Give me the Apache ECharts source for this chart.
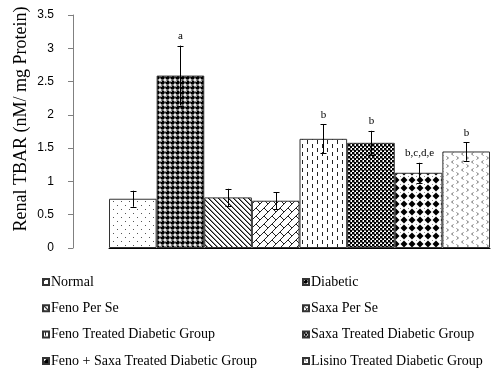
<!DOCTYPE html>
<html>
<head>
<meta charset="utf-8">
<script src="https://cdn.jsdelivr.net/npm/echarts@6/dist/echarts.min.js"></script>
<style>
html,body{margin:0;padding:0;background:#fff;}
#chart{width:500px;height:376px;}
</style>
</head>
<body>
<div id="chart"></div>
<script>
// ---- data ----
var groups = ['Normal', 'Diabetic', 'Feno Per Se', 'Saxa Per Se',
  'Feno Treated Diabetic Group', 'Saxa Treated Diabetic Group',
  'Feno + Saxa Treated Diabetic Group', 'Lisino Treated Diabetic Group'];
var values = [0.74, 2.59, 0.76, 0.71, 1.64, 1.58, 1.13, 1.45];
var errors = [0.12, 0.45, 0.13, 0.13, 0.22, 0.18, 0.15, 0.14];
var annotations = ['', 'a', '', '', 'b', 'b', 'b,c,d,e', 'b'];
var yTicks = [0, 0.5, 1, 1.5, 2, 2.5, 3, 3.5];
var yTitle = 'Renal TBAR (nM/ mg Protein)';
var legendLeft = [groups[0], groups[2], groups[4], groups[6]];
var legendRight = [groups[1], groups[3], groups[5], groups[7]];

// ---- fill patterns ----
function tile(w, h, draw) {
  var c = document.createElement('canvas');
  c.width = w; c.height = h;
  var g = c.getContext('2d');
  g.fillStyle = '#fff'; g.fillRect(0, 0, w, h);
  draw(g, w, h);
  return {image: c, repeat: 'repeat'};
}
var patterns = [
  tile(8, 8, function (g) { g.fillStyle = '#555'; g.fillRect(1, 1, 1, 1); g.fillRect(5, 5, 1, 1); }),
  tile(5, 5, function (g) {
    g.fillStyle = '#000'; g.beginPath(); g.arc(2.5, 2.5, 2.3, 0, Math.PI * 2); g.fill();
    g.fillStyle = '#aaa'; g.fillRect(1, 1, 1, 1);
  }),
  tile(5, 5, function (g) {
    for (var i = 0; i < 5; i++) { g.fillStyle = '#111'; g.fillRect(i, i, 1, 1); g.fillStyle = '#888'; g.fillRect((i + 1) % 5, i, 1, 1); }
  }),
  tile(8, 8, function (g) {
    g.strokeStyle = '#222'; g.lineWidth = 1;
    g.beginPath(); g.moveTo(-1, 9); g.lineTo(9, -1); g.stroke();
    g.beginPath(); g.moveTo(0, 0); g.lineTo(4, 4); g.stroke();
  }),
  tile(10, 8, function (g) { g.fillStyle = '#222'; g.fillRect(2, 0, 1, 4); g.fillRect(7, 4, 1, 4); }),
  tile(4, 4, function (g) {
    g.fillStyle = '#000'; g.fillRect(0, 0, 2, 2); g.fillRect(2, 2, 2, 2);
    g.fillStyle = '#888'; g.fillRect(2, 0, 1, 2); g.fillRect(0, 2, 2, 1);
  }),
  tile(8, 8, function (g) {
    g.fillStyle = '#000'; g.beginPath(); g.moveTo(4, 0.5); g.lineTo(7.5, 4); g.lineTo(4, 7.5); g.lineTo(0.5, 4); g.closePath(); g.fill();
    g.fillStyle = '#999'; g.fillRect(0, 0, 1, 1);
  }),
  tile(10, 8, function (g) {
    g.strokeStyle = '#777'; g.lineWidth = 1;
    g.beginPath(); g.moveTo(3.5, 0.5); g.lineTo(1.5, 2); g.lineTo(3.5, 3.5); g.stroke();
    g.beginPath(); g.moveTo(6.5, 4.5); g.lineTo(8.5, 6); g.lineTo(6.5, 7.5); g.stroke();
  })
];

var chart = echarts.init(document.getElementById('chart'), null, {renderer: 'canvas'});

var series = groups.map(function (name, i) {
  return {
    type: 'bar',
    name: name,
    stack: 'all',
    barWidth: '100%',
    data: values.map(function (v, j) { return j === i ? v : '-'; }),
    itemStyle: {color: patterns[i], borderColor: '#333', borderWidth: 1},
    emphasis: {disabled: true}
  };
});

series.push({
  type: 'custom',
  name: 'err',
  z: 10,
  data: values.map(function (v, i) { return [i, v, errors[i]]; }),
  renderItem: function (params, api) {
    var i = api.value(0), v = api.value(1), e = api.value(2);
    var top = api.coord([i, v + e]);
    var bot = api.coord([i, v - e]);
    var x = Math.round(top[0]) + 0.5;
    var cw = 3;
    var style = {stroke: '#000', lineWidth: 1};
    return {
      type: 'group',
      children: [
        {type: 'line', shape: {x1: x, y1: top[1], x2: x, y2: bot[1]}, style: style},
        {type: 'line', shape: {x1: x - cw, y1: Math.round(top[1]) + 0.5, x2: x + cw, y2: Math.round(top[1]) + 0.5}, style: style},
        {type: 'line', shape: {x1: x - cw, y1: Math.round(bot[1]) + 0.5, x2: x + cw, y2: Math.round(bot[1]) + 0.5}, style: style},
        {type: 'text', style: {text: annotations[params.dataIndex], x: x, y: top[1] - 4, align: 'center', verticalAlign: 'bottom',
          font: '11px "Liberation Serif", "Times New Roman", serif', fill: '#000'}}
      ]
    };
  }
});

var legendCommon = {
  orient: 'vertical',
  top: 275,
  padding: 0,
  itemWidth: 6,
  itemHeight: 6,
  itemGap: 12.3,
  icon: 'rect',
  selectedMode: false,
  textStyle: {fontFamily: '"Liberation Serif", "Times New Roman", serif', fontSize: 14, color: '#000', lineHeight: 14,
    padding: [0, 0, 0, -3]}
};

chart.setOption({
  animation: false,
  backgroundColor: '#fff',
  grid: {left: 109, right: 10, top: 15, bottom: 128},
  legend: [
    Object.assign({}, legendCommon, {left: 42, data: legendLeft}),
    Object.assign({}, legendCommon, {left: 302, data: legendRight})
  ],
  graphic: [{
    type: 'text',
    x: 21,
    y: 119,
    rotation: Math.PI / 2,
    silent: true,
    style: {text: yTitle, align: 'center', verticalAlign: 'middle',
      font: '18px "Liberation Serif", "Times New Roman", serif', fill: '#000'}
  }],
  xAxis: {
    type: 'category',
    data: groups,
    axisLine: {show: true, lineStyle: {color: '#000'}},
    axisTick: {show: false},
    axisLabel: {show: false},
    splitLine: {show: false}
  },
  yAxis: {
    type: 'value',
    min: yTicks[0],
    max: yTicks[yTicks.length - 1],
    interval: 0.5,
    offset: 36,
    axisLine: {show: true, lineStyle: {color: '#808080'}},
    axisTick: {show: true, length: 5, lineStyle: {color: '#808080'}},
    axisLabel: {fontFamily: '"Liberation Sans", Arial, sans-serif', fontSize: 12, color: '#000', margin: 19},
    splitLine: {show: false}
  },
  series: series
});
</script>
</body>
</html>
